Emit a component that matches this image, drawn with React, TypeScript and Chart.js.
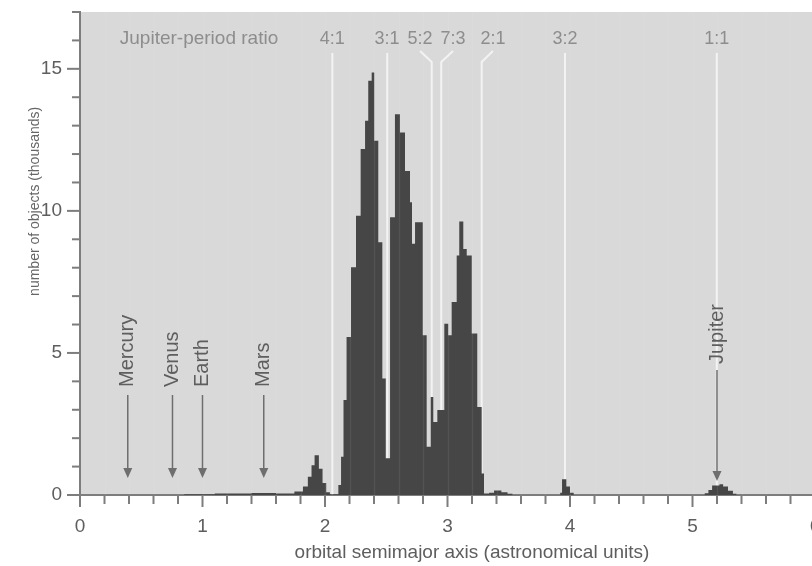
import React, { useEffect, useRef } from 'react';
import { Chart, registerables } from 'chart.js';

Chart.register(...registerables);

// Histogram of asteroid semimajor axes: left edge of each bin (AU) and count (thousands)
const binEdges = [
  0.85, 1.1, 1.4, 1.6, 1.75, 1.82, 1.86, 1.89, 1.915, 1.95, 1.98, 2.01, 2.04,
  2.109, 2.131, 2.151, 2.176, 2.212, 2.253, 2.291, 2.327, 2.353, 2.381, 2.402, 2.435, 2.468, 2.496,
  2.531, 2.571, 2.612, 2.653, 2.694, 2.71, 2.735, 2.798, 2.83, 2.863, 2.884, 2.917,
  2.974, 3.006, 3.034, 3.075, 3.096, 3.129, 3.157, 3.198, 3.243, 3.279, 3.298,
  3.34, 3.38, 3.44, 3.49, 3.53, 3.92, 3.935, 3.97, 4.0, 4.03,
  5.1, 5.13, 5.16, 5.22, 5.25, 5.29, 5.33, 5.36,
];
const counts = [
  0.03, 0.05, 0.07, 0.05, 0.12, 0.3, 0.64, 1.05, 1.4, 0.92, 0.42, 0.1, 0.03,
  0.35, 1.35, 3.34, 5.56, 8.02, 9.83, 12.18, 13.17, 14.58, 14.87, 12.47, 8.9, 4.1, 1.29,
  9.78, 13.4, 12.76, 11.4, 10.3, 8.84, 9.6, 5.62, 1.7, 3.45, 2.57, 2.99,
  6.03, 5.62, 6.79, 8.43, 9.63, 8.66, 8.43, 5.68, 3.1, 0.76, 0.05,
  0.08, 0.16, 0.1, 0.04, 0, 0.08, 0.55, 0.3, 0.08, 0,
  0.06, 0.18, 0.33, 0.38, 0.3, 0.15, 0.04, 0,
];

// Jupiter-period resonances (Kirkwood gaps)
const resonanceLabels = ['4:1', '3:1', '5:2', '7:3', '2:1', '3:2', '1:1'];
const resonanceAU = [2.06, 2.508, 2.871, 2.949, 3.279, 3.959, 5.198];
const resonanceLabelAU = [2.06, 2.506, 2.776, 3.045, 3.371, 3.959, 5.198];

// Planets
const planetNames = ['Mercury', 'Venus', 'Earth', 'Mars', 'Jupiter'];
const planetAU = [0.39, 0.755, 1.0, 1.5, 5.2];

const xMin = 0;
const xMax = 6.4;
const xStep = 0.2;
const yMin = 0;
const yMax = 17;
const yStep = 1;

const FONT = "'Liberation Sans', Arial, Helvetica, sans-serif";
const isInt = (v: number) => Math.abs(v - Math.round(v)) < 1e-6;

const decorPlugin = {
  id: 'decor',
  beforeDraw(chart: any) {
    const { ctx, chartArea: a } = chart;
    ctx.save();
    ctx.fillStyle = '#d9d9d9';
    ctx.fillRect(a.left, a.top, a.right - a.left, a.bottom - a.top);
    ctx.restore();
  },
  beforeDatasetsDraw(chart: any) {
    const { ctx, chartArea: a, scales } = chart;
    const xs = scales.x;
    ctx.save();
    ctx.strokeStyle = '#f3f3f3';
    ctx.lineWidth = 2;
    resonanceAU.forEach((au: number, i: number) => {
      const lx = xs.getPixelForValue(au);
      const tx = xs.getPixelForValue(resonanceLabelAU[i]);
      ctx.beginPath();
      if (Math.abs(lx - tx) > 3) {
        ctx.moveTo(tx, a.top + 39);
        ctx.lineTo(lx, a.top + 50);
      } else {
        ctx.moveTo(lx, a.top + 41);
      }
      ctx.lineTo(lx, a.bottom);
      ctx.stroke();
    });
    ctx.fillStyle = '#8d8d8d';
    ctx.textAlign = 'center';
    ctx.textBaseline = 'middle';
    ctx.font = `18px ${FONT}`;
    resonanceLabels.forEach((t: string, i: number) => {
      ctx.fillText(t, xs.getPixelForValue(resonanceLabelAU[i]), a.top + 27);
    });
    ctx.font = `19px ${FONT}`;
    ctx.fillText('Jupiter-period ratio', a.left + 119, a.top + 27);
    ctx.restore();
  },
  afterDatasetsDraw(chart: any) {
    const { ctx, chartArea: a, scales } = chart;
    const xs = scales.x;
    const ys = scales.y;
    ctx.save();
    // faint vertical grid over the bars
    ctx.strokeStyle = 'rgba(255,255,255,0.07)';
    ctx.lineWidth = 1.5;
    xs.ticks.forEach((t: any) => {
      if (t.value <= xMin) return;
      const px = Math.round(xs.getPixelForValue(t.value)) + 0.5;
      ctx.beginPath();
      ctx.moveTo(px, a.top);
      ctx.lineTo(px, a.bottom);
      ctx.stroke();
    });
    // planet arrows
    const y0 = ys.getPixelForValue(0);
    planetNames.forEach((name: string, i: number) => {
      const px = xs.getPixelForValue(planetAU[i]);
      const isJ = name === 'Jupiter';
      const tip = y0 - (isJ ? 14 : 17);
      const top = y0 - (isJ ? 125 : 100);
      const labelStart = y0 - (isJ ? 131 : 108);
      ctx.strokeStyle = '#6e6e6e';
      ctx.fillStyle = '#6e6e6e';
      ctx.lineWidth = 1.5;
      ctx.beginPath();
      ctx.moveTo(px, top);
      ctx.lineTo(px, tip - 9);
      ctx.stroke();
      ctx.beginPath();
      ctx.moveTo(px - 4.5, tip - 10);
      ctx.lineTo(px + 4.5, tip - 10);
      ctx.lineTo(px, tip);
      ctx.closePath();
      ctx.fill();
      ctx.save();
      ctx.translate(px, labelStart);
      ctx.rotate(-Math.PI / 2);
      ctx.fillStyle = '#5e5e5e';
      ctx.font = `20px ${FONT}`;
      ctx.textAlign = 'left';
      ctx.textBaseline = 'middle';
      ctx.fillText(name, 0, 0);
      ctx.restore();
    });
    ctx.restore();
  },
  afterDraw(chart: any) {
    const { ctx, chartArea: a, scales } = chart;
    const xs = scales.x;
    const ys = scales.y;
    ctx.save();
    ctx.strokeStyle = '#7d7d7d';
    ctx.lineWidth = 2;
    xs.ticks.forEach((t: any) => {
      const px = xs.getPixelForValue(t.value);
      const len = isInt(t.value) ? 12 : 9;
      ctx.beginPath();
      ctx.moveTo(px, a.bottom);
      ctx.lineTo(px, a.bottom + len);
      ctx.stroke();
    });
    ys.ticks.forEach((t: any) => {
      const py = ys.getPixelForValue(t.value);
      const len = t.value % 5 === 0 ? 13 : 8;
      ctx.beginPath();
      ctx.moveTo(a.left, py);
      ctx.lineTo(a.left - len, py);
      ctx.stroke();
    });
    // y-axis title
    ctx.translate(35, a.top + (a.bottom - a.top) * 0.392);
    ctx.rotate(-Math.PI / 2);
    ctx.fillStyle = '#666666';
    ctx.font = `14px ${FONT}`;
    ctx.textAlign = 'center';
    ctx.textBaseline = 'middle';
    ctx.fillText('number of objects (thousands)', 0, 0);
    ctx.restore();
  },
};

export default function App() {
  const ref = useRef<HTMLCanvasElement | null>(null);
  useEffect(() => {
    if (!ref.current) return;
    const data = binEdges.map((x, i) => ({ x, y: counts[i] }));
    const chart = new Chart(ref.current, {
      type: 'line',
      data: {
        datasets: [
          {
            data,
            stepped: true,
            fill: 'origin',
            backgroundColor: '#464646',
            borderColor: '#464646',
            borderWidth: 0,
            pointRadius: 0,
          },
        ],
      },
      options: {
        responsive: false,
        animation: false,
        layout: { padding: { top: 12, right: 16, bottom: 0, left: 0 } },
        plugins: { legend: { display: false }, tooltip: { enabled: false } },
        scales: {
          x: {
            type: 'linear',
            min: xMin,
            max: xMax,
            z: 1,
            afterFit: (s: any) => {
              s.height = 71;
              s.paddingLeft = 0;
              s.paddingRight = 0;
            },
            grid: { display: true, drawOnChartArea: false, drawTicks: false },
            border: { display: true, color: '#7d7d7d', width: 2 },
            ticks: {
              stepSize: xStep,
              autoSkip: false,
              maxRotation: 0,
              padding: 20,
              color: '#5e5e5e',
              font: { family: FONT, size: 19 },
              callback: (v: any) => (isInt(Number(v)) ? String(Math.round(Number(v))) : ''),
            },
            title: {
              display: true,
              text: 'orbital semimajor axis (astronomical units)',
              color: '#5e5e5e',
              font: { family: FONT, size: 19 },
              padding: { top: 0, bottom: 2 },
            },
          },
          y: {
            min: yMin,
            max: yMax,
            afterFit: (s: any) => {
              s.width = 80;
              s.paddingTop = 0;
              s.paddingBottom = 0;
            },
            grid: { display: true, drawOnChartArea: false, drawTicks: false },
            border: { display: true, color: '#7d7d7d', width: 2 },
            ticks: {
              stepSize: yStep,
              autoSkip: false,
              padding: 18,
              color: '#5e5e5e',
              font: { family: FONT, size: 19 },
              callback: (v: any) => (Number(v) % 5 === 0 ? String(v) : ''),
            },
          },
        },
      },
      plugins: [decorPlugin],
    } as any);
    return () => chart.destroy();
  }, []);
  return (
    <div
      style={{
        position: 'fixed',
        left: 0,
        top: 0,
        width: 812,
        height: 566,
        overflow: 'hidden',
        background: '#ffffff',
      }}
    >
      <canvas ref={ref} width={880} height={566} style={{ display: 'block' }} />
    </div>
  );
}
